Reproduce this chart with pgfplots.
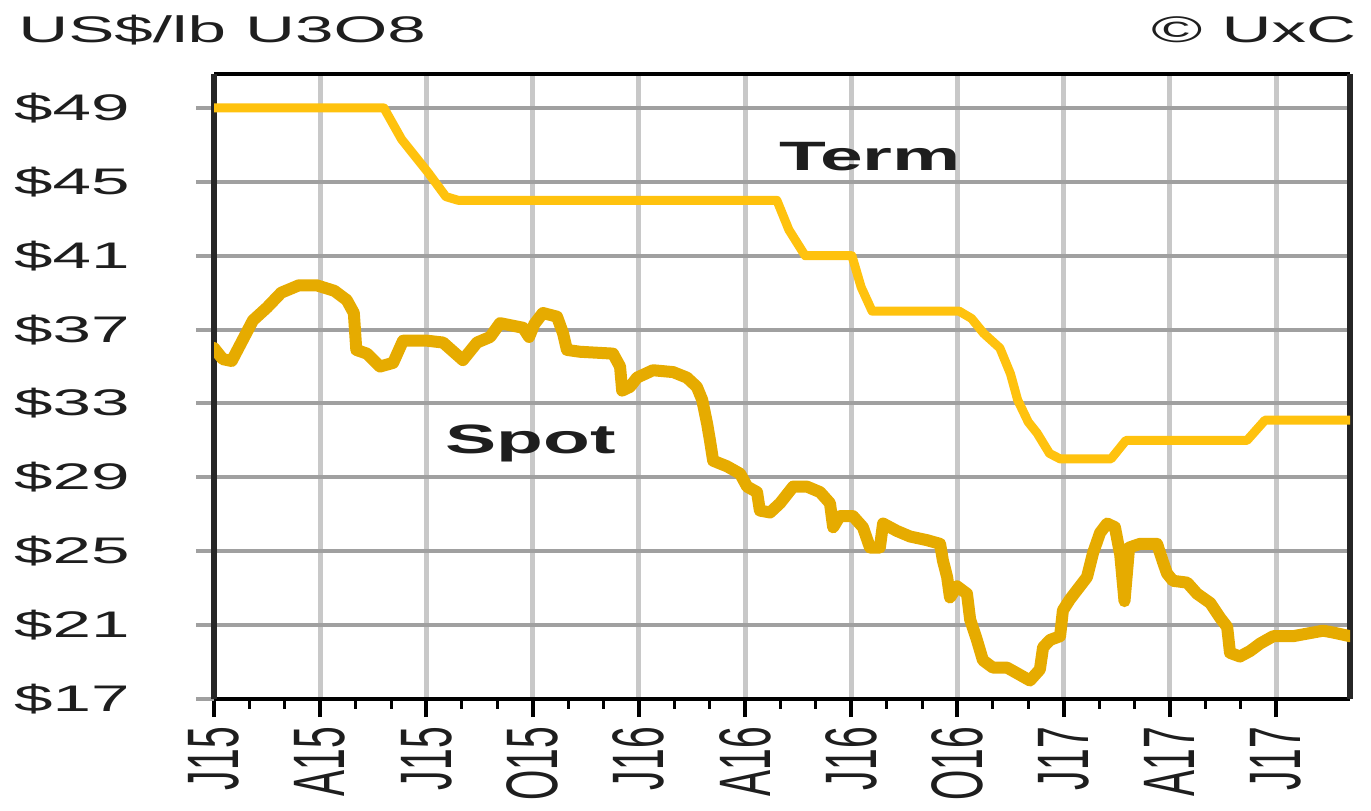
\documentclass[border=0pt]{standalone}
\usepackage{pgfplots}
\pgfplotsset{compat=1.18}
\usepackage{fontspec}
\setmainfont{Liberation Sans}
\definecolor{termc}{HTML}{FFC20E}
\definecolor{spotc}{HTML}{E6AB00}
\definecolor{hgrid}{HTML}{A0A0A0}
\definecolor{vgrid}{HTML}{C8C8C8}
\definecolor{txt}{HTML}{1E1E1E}

\pgfplotstableread{
m v
0 49
4.8 49
5.3 47.3
6.05 45.5
6.55 44.2
6.9 44.0
15.9 44.0
16.24 42.4
16.7 41.0
18.02 41.0
18.28 39.3
18.59 38.0
21.05 38.0
21.4 37.6
21.74 36.8
22.2 36.0
22.5 34.6
22.7 33.2
23.0 32.0
23.25 31.4
23.6 30.3
23.9 30.0
25.34 30.0
25.76 31.0
29.18 31.0
29.69 32.1
32.09 32.1
}\termtable

\pgfplotstableread{
m v
0 36.0
0.25 35.4
0.5 35.3
0.8 36.4
1.1 37.5
1.5 38.2
1.9 39.0
2.4 39.4
2.9 39.4
3.4 39.1
3.75 38.6
3.95 37.9
4.02 35.9
4.32 35.7
4.69 35.0
5.06 35.2
5.34 36.4
6.02 36.4
6.47 36.3
7.03 35.35
7.43 36.3
7.8 36.6
8.08 37.35
8.73 37.1
8.9 36.6
9.05 37.3
9.29 37.9
9.69 37.7
9.86 36.8
9.97 35.9
10.34 35.8
11.27 35.7
11.47 35.0
11.53 33.7
11.75 33.9
11.95 34.4
12.4 34.8
12.97 34.7
13.36 34.4
13.64 33.9
13.79 33.2
13.93 31.9
14.01 31.0
14.1 29.9
14.49 29.6
14.86 29.2
15.06 28.5
15.34 28.2
15.42 27.2
15.71 27.1
15.99 27.6
16.36 28.5
16.75 28.5
17.12 28.2
17.4 27.6
17.49 26.3
17.68 26.9
18.05 26.9
18.33 26.3
18.53 25.2
18.81 25.2
18.9 26.5
19.29 26.1
19.66 25.8
20.14 25.6
20.51 25.4
20.59 24.5
20.71 23.6
20.79 22.5
20.99 23.1
21.27 22.7
21.36 21.3
21.55 20.2
21.72 19.1
22.0 18.7
22.4 18.7
22.68 18.4
23.05 18.0
23.33 18.6
23.42 19.8
23.62 20.2
23.9 20.4
23.98 21.8
24.18 22.4
24.38 22.9
24.66 23.6
24.83 24.9
25.03 26.0
25.23 26.5
25.45 26.3
25.6 24.8
25.72 22.3
25.85 25.2
26.16 25.4
26.64 25.4
26.81 24.4
26.92 23.8
27.09 23.4
27.49 23.3
27.77 22.7
28.14 22.2
28.42 21.4
28.62 20.9
28.7 19.5
28.98 19.3
29.27 19.6
29.55 20.0
29.92 20.4
30.48 20.4
31.05 20.6
31.33 20.7
31.61 20.6
32.09 20.4
}\spottable

\begin{document}
\begin{tikzpicture}
\useasboundingbox (0,0) rectangle (1371pt,811pt);
\node[anchor=base west, inner sep=0pt, xscale=1.87, text=txt, font=\fontsize{37}{40}\selectfont] at (18pt,768pt) {US\$/lb U3O8};
\node[anchor=base west, inner sep=0pt, xscale=1.87, text=txt, font=\fontsize{37}{40}\selectfont] at (1151pt,768pt) {\textcopyright\ UxC};
\begin{axis}[
  at={(214pt,112pt)}, anchor=south west,
  scale only axis, width=1136pt, height=625pt,
  xmin=0, xmax=32.09, ymin=17, ymax=50.84,
  xtick={0,3,...,30},
  xticklabels={J15,A15,J15,O15,J16,A16,J16,O16,J17,A17,J17},
  minor x tick num=2,
  ytick={17,21,...,49},
  yticklabels={\$17,\$21,\$25,\$29,\$33,\$37,\$41,\$45,\$49},
  xtick pos=bottom, ytick pos=left,
  xmajorgrids, ymajorgrids,
  x grid style={vgrid, line width=5pt},
  y grid style={hgrid, line width=4pt},
  separate axis lines,
  x axis line style={black, line width=4pt},
  y axis line style={black!85, line width=6pt},
  tick align=outside,
  major tick length=18pt, minor tick length=10pt,
  x tick style={black, line width=4pt},
  minor x tick style={black, line width=3pt},
  y tick style={hgrid, line width=4pt},
  xticklabel style={yshift=-10pt, xscale=1.87, rotate=90, anchor=east, text=txt, font=\fontsize{39}{42}\selectfont, inner sep=0pt},
  yticklabel style={xshift=-66pt, xscale=1.87, anchor=east, text=txt, font=\fontsize{37}{40}\selectfont, inner sep=0pt},
]
\addplot[termc, line width=9pt, line join=round, line cap=round] table[x=m, y=v] {\termtable};
\addplot[spotc, line width=12pt, line join=round, line cap=round] table[x=m, y=v] {\spottable};
\node[anchor=base, inner sep=0pt, xscale=1.87, font=\bfseries\fontsize{41}{44}\selectfont, text=txt] at (axis cs:18.53,45.64) {Term};
\node[anchor=base, inner sep=0pt, xscale=1.87, font=\bfseries\fontsize{41}{44}\selectfont, text=txt] at (axis cs:8.95,30.3) {Spot};
\end{axis}
\end{tikzpicture}
\end{document}
